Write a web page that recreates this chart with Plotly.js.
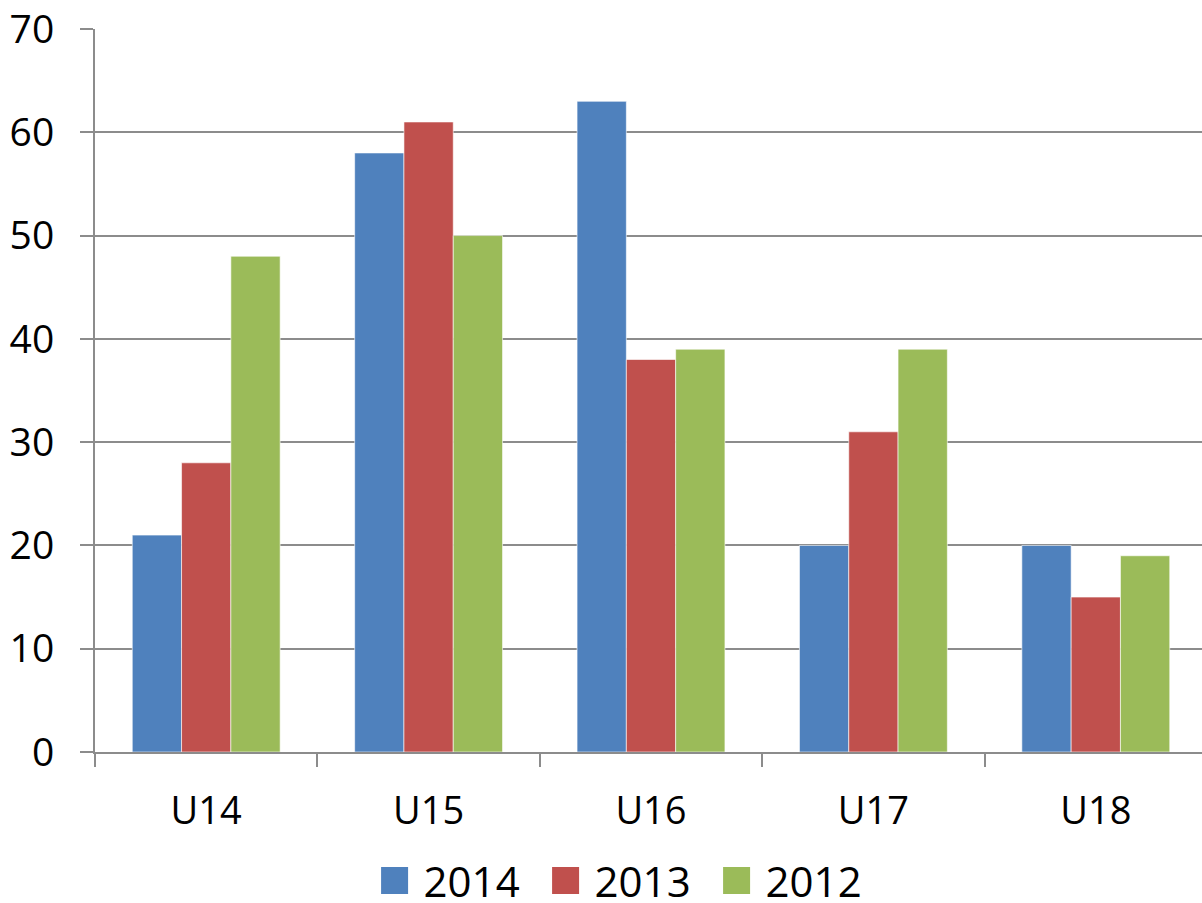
<!DOCTYPE html>
<html><head><meta charset="utf-8">
<script src="https://cdn.plot.ly/plotly-3.0.1.min.js"></script>
<style>html,body{margin:0;padding:0;overflow:hidden;background:#fff}</style>
</head><body>
<div id="chart" style="width:1207px;height:903px"></div>
<script>
const categories = ["U14", "U15", "U16", "U17", "U18"];
const seriesNames = ["2014", "2013", "2012"];
const values2014 = [21, 58, 63, 20, 20];
const values2013 = [28, 61, 38, 31, 15];
const values2012 = [48, 50, 39, 39, 19];
const colors = ["#4F81BD", "#C0504D", "#9BBB59"];
const yTicks = [0, 10, 20, 30, 40, 50, 60, 70];

const allValues = [values2014, values2013, values2012];
const traces = allValues.map((v, i) => ({
  type: "bar", name: seriesNames[i], x: categories, y: v,
  marker: {color: colors[i], line: {color: "rgba(255,255,255,0.6)", width: 1}}
}));

const layout = {
  width: 1207, height: 903,
  margin: {l: 95, r: 0, t: 29, b: 151, autoexpand: false},
  paper_bgcolor: "#fff", plot_bgcolor: "#fff",
  font: {family: "Open Sans, sans-serif", color: "#000"},
  barmode: "group", bargap: 0.335, bargroupgap: 0,
  showlegend: true,
  legend: {orientation: "h", x: 0.474, xanchor: "center", y: -0.178, yanchor: "middle",
    font: {size: 42, color: "#000"}, itemwidth: 48, entrywidth: 108, traceorder: "normal"},
  xaxis: {type: "category", showline: true, linecolor: "#8c8c8c", linewidth: 2,
    ticks: "outside", tickson: "boundaries", ticklen: 13, tickcolor: "#8c8c8c", tickwidth: 2,
    tickfont: {size: 38}, showgrid: false, zeroline: false, ticklabelstandoff: 24},
  yaxis: {range: [0, 70], tickvals: yTicks, ticktext: yTicks.map(String),
    showline: true, linecolor: "#8c8c8c", linewidth: 2,
    ticks: "outside", ticklen: 13, tickcolor: "#8c8c8c", tickwidth: 2,
    showgrid: true, gridcolor: "#8c8c8c", gridwidth: 2, zeroline: false,
    tickfont: {size: 39}, ticklabelstandoff: 18}
};

Plotly.newPlot("chart", traces, layout, {displayModeBar: false, staticPlot: true}).then(() => {
  document.querySelectorAll("#chart .legendpoints path").forEach(p => {
    p.setAttribute("d", "M13.5,13.5H-13.5V-13.5H13.5Z");
    p.style.strokeWidth = "0px";
  });
});
</script>
</body></html>
